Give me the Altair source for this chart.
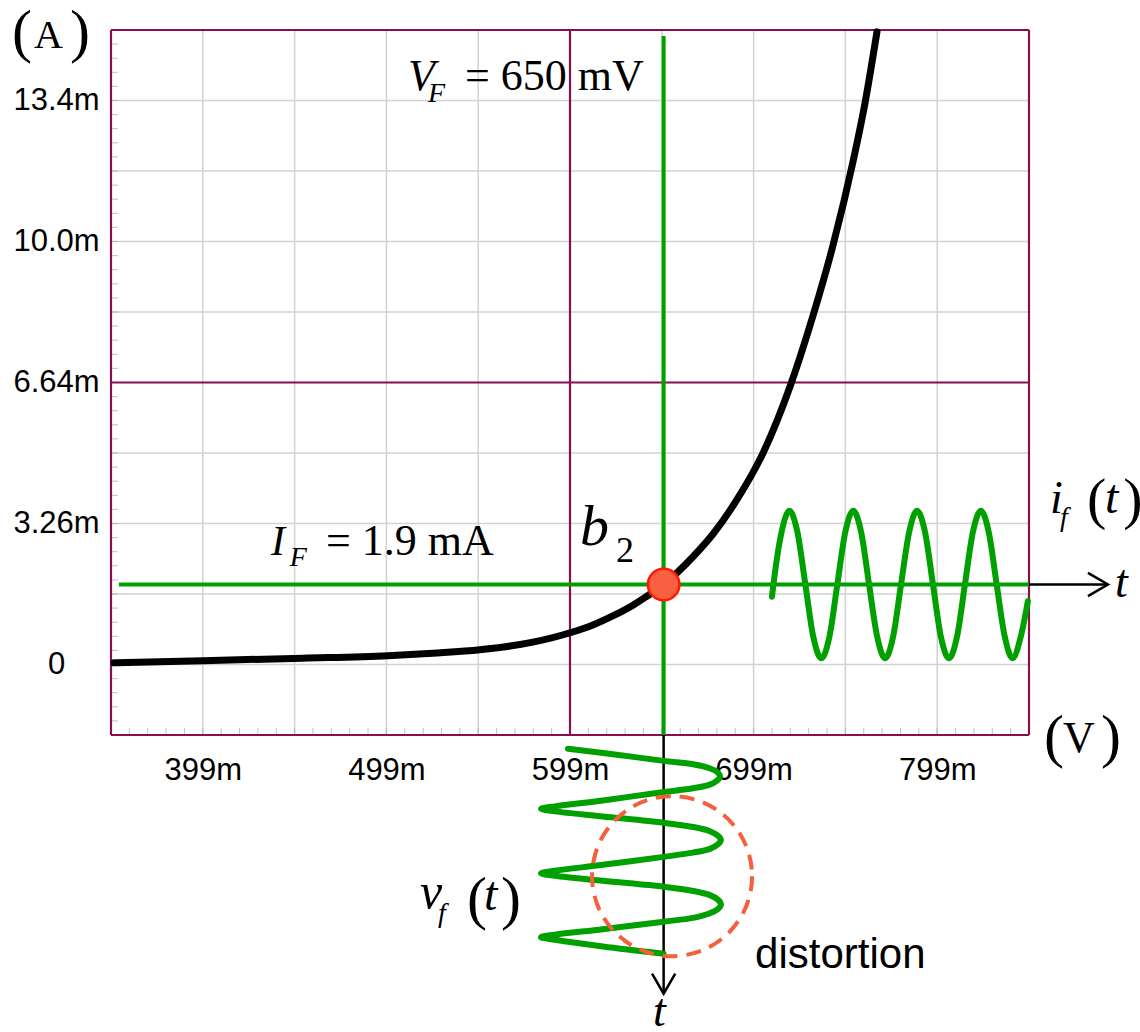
import altair as alt
import pandas as pd

# ---------------- frame: voltage (mV) across, current (mA) up ----------------
X_DOMAIN = [349, 849]
Y_DOMAIN = [-1.675, 15.075]
X_GRID_MINOR = [399, 449, 499, 549, 649, 699, 749, 799]
X_GRID_MAJOR = [349, 599, 849]
Y_GRID_MINOR = [0, 1.675, 3.35, 5.025, 8.375, 10.05, 11.725, 13.4]
Y_GRID_MAJOR = [-1.675, 6.7, 15.075]
X_TICK_VALUES = [399, 499, 599, 699, 799]
Y_TICK_VALUES = [0, 3.35, 6.7, 10.05, 13.4]
Y_TICK_LABELS = ["0", "3.26m", "6.64m", "10.0m", "13.4m"]
X_SUBTICKS = list(range(359, 849, 10))
Y_SUBTICKS = [round(-1.675 + 0.335 * k, 3) for k in range(1, 50)]

# ---------------- diode characteristic ----------------
DIODE_V = [350.6, 399.1, 453.5, 499.8, 524.3, 549.9, 578.8, 599.5, 611.5, 624.0, 633.3,
           640.4, 650.0, 657.8, 666.0, 676.9, 689.4, 704.1, 718.8, 731.3, 742.2,
           753.1, 759.6, 766.2]
DIODE_I = [0.04, 0.09, 0.15, 0.21, 0.27, 0.35, 0.53, 0.76, 0.94, 1.19, 1.41,
           1.61, 1.90, 2.20, 2.56, 3.10, 3.88, 5.02, 6.60, 8.28, 9.95,
           11.94, 13.32, 15.03]

# operating point b2
VF = 650
IF = 1.9

# current swing i_f(t) around I_F (time runs along the voltage axis)
IF_T = [709.0, 709.8, 714.2, 718.5, 722.9, 727.2, 731.5, 735.9, 740.3, 744.6, 748.9,
        753.3, 757.6, 761.9, 766.3, 770.6, 775.0, 779.3, 783.7, 788.0, 792.4, 796.7,
        801.0, 805.4, 809.8, 814.1, 818.4, 822.8, 827.1, 831.4, 835.8, 840.1, 844.5, 848.4]
IF_VAL = [1.61, 1.90, 3.14, 3.65, 3.14, 1.90, 0.66, 0.15, 0.66, 1.90, 3.14,
          3.65, 3.14, 1.90, 0.66, 0.15, 0.66, 1.90, 3.14, 3.65, 3.14, 1.90,
          0.66, 0.15, 0.66, 1.90, 3.14, 3.65, 3.14, 1.90, 0.66, 0.15, 0.66, 1.51]

# voltage swing v_f(t) around V_F (time runs downward below the axis)
VF_VAL = [597.9, 622.4, 650.0,
          666.0, 674.7, 679.0, 680.7, 679.0, 674.7, 666.0, 650.0,
          616.9, 590.8, 583.2, 590.8, 616.9, 650.0,
          666.0, 675.2, 679.6, 681.2, 679.6, 675.2, 666.0, 650.0,
          616.9, 590.8, 583.2, 590.8, 616.9, 650.0,
          666.0, 675.2, 679.6, 681.2, 679.6, 675.2, 666.0, 650.0,
          616.9, 590.8, 583.2, 590.8, 616.9, 650.0]
VF_T = [-2.00, -2.13, -2.29,
        -2.37, -2.46, -2.55, -2.66, -2.76, -2.86, -2.94, -3.03,
        -3.23, -3.37, -3.43, -3.49, -3.61, -3.76,
        -3.86, -3.96, -4.07, -4.17, -4.27, -4.38, -4.47, -4.57,
        -4.76, -4.90, -4.96, -5.02, -5.14, -5.28,
        -5.38, -5.48, -5.59, -5.70, -5.81, -5.91, -6.02, -6.11,
        -6.29, -6.42, -6.48, -6.54, -6.70, -6.87]

GREEN = "#00a000"
FRAME = "#86104f"
GRID = "#d2d2d2"
RED = "#f4603c"

xs = alt.Scale(domain=X_DOMAIN, nice=False, zero=False)
ys = alt.Scale(domain=Y_DOMAIN, nice=False, zero=False)

y_label_expr = " : ".join(
    f"datum.value === {v} ? '{t}'" for v, t in zip(Y_TICK_VALUES, Y_TICK_LABELS)
) + " : ''"

x_axis = alt.Axis(values=X_TICK_VALUES, labelExpr="datum.value + 'm'", title="",
                  domain=False, ticks=False, tickSize=0, grid=False,
                  labelFont="Liberation Sans", labelFontSize=31, labelColor="black",
                  labelPadding=20, labelFlush=False)
y_axis = alt.Axis(values=Y_TICK_VALUES, labelExpr=y_label_expr, title="",
                  domain=False, ticks=False, tickSize=0, grid=False,
                  labelFont="Liberation Sans", labelFontSize=31, labelColor="black",
                  labelAlign="center", labelBaseline="middle", labelPadding=55,
                  labelFlush=False)


def X(field):
    return alt.X(field, type="quantitative", scale=xs, axis=x_axis)


def Y(field):
    return alt.Y(field, type="quantitative", scale=ys, axis=y_axis)


# grid
grid_v = alt.Chart(pd.DataFrame({"v": X_GRID_MINOR})).mark_rule(
    color=GRID, strokeWidth=1.5).encode(x=X("v"))
grid_h = alt.Chart(pd.DataFrame({"i": Y_GRID_MINOR})).mark_rule(
    color=GRID, strokeWidth=1.5).encode(y=Y("i"))

sub_x = alt.Chart(pd.DataFrame({"v": X_SUBTICKS, "i": Y_DOMAIN[0]})).mark_tick(
    orient="vertical", color="#a8a8a8", thickness=1, size=7, yOffset=-3.5
).encode(x=X("v"), y=Y("i"))
sub_y = alt.Chart(pd.DataFrame({"i": Y_SUBTICKS, "v": X_DOMAIN[0]})).mark_tick(
    orient="horizontal", color="#a8a8a8", thickness=1, size=7, xOffset=3.5
).encode(x=X("v"), y=Y("i"))

major_v = alt.Chart(pd.DataFrame({"v": X_GRID_MAJOR})).mark_rule(
    color=FRAME, strokeWidth=2.2).encode(x=X("v"))
major_h = alt.Chart(pd.DataFrame({"i": Y_GRID_MAJOR})).mark_rule(
    color=FRAME, strokeWidth=2.2).encode(y=Y("i"))

# operating-point guide lines
guide_h = alt.Chart(pd.DataFrame({"a": [353.3], "b": [X_DOMAIN[1]], "i": [IF]})).mark_rule(
    color=GREEN, strokeWidth=4).encode(x=X("a"), x2="b", y=Y("i"))
guide_v = alt.Chart(pd.DataFrame({"v": [VF], "a": [14.93], "b": [Y_DOMAIN[0]]})).mark_rule(
    color=GREEN, strokeWidth=4).encode(x=X("v"), y=Y("a"), y2="b")

# time axes with arrow heads
shaft_h = alt.Chart(pd.DataFrame({"a": [X_DOMAIN[1]], "b": [892.0], "i": [IF]})).mark_rule(
    color="black", strokeWidth=2.5).encode(x=X("a"), x2="b", y=Y("i"))
shaft_v = alt.Chart(pd.DataFrame({"v": [VF], "a": [Y_DOMAIN[0]], "b": [-7.82]})).mark_rule(
    color="black", strokeWidth=2.5).encode(x=X("v"), y=Y("a"), y2="b")
heads = alt.Chart(pd.DataFrame({"v": [892.0, VF], "i": [IF, -7.82], "ang": [0, 90]})).mark_point(
    shape="M -1 -0.58 L 0 0 L -1 0.58", filled=False, size=1600, stroke="black",
    strokeWidth=2.5, opacity=1
).encode(x=X("v"), y=Y("i"), angle=alt.Angle("ang:Q", scale=None))

# diode curve
curve = alt.Chart(pd.DataFrame({"v": DIODE_V, "i": DIODE_I})).mark_line(
    color="black", strokeWidth=7, interpolate="monotone", strokeCap="round"
).encode(x=X("v"), y=Y("i"))

# signal swings
wave_i = alt.Chart(pd.DataFrame({"v": IF_T, "i": IF_VAL})).mark_line(
    color=GREEN, strokeWidth=6, interpolate="monotone", strokeCap="round"
).encode(x=X("v"), y=Y("i"))
wave_v = alt.Chart(pd.DataFrame({"v": VF_VAL, "i": VF_T, "k": list(range(len(VF_T)))})).mark_line(
    color=GREEN, strokeWidth=6, interpolate="catmull-rom", strokeCap="round",
    strokeJoin="round"
).encode(x=X("v"), y=Y("i"), order="k:Q")

# b2 marker and distortion ring
dot = alt.Chart(pd.DataFrame({"v": [VF], "i": [IF]})).mark_point(
    shape="circle", filled=True, size=1000, fill="#f76142", stroke="#ff1a00",
    strokeWidth=2.5, opacity=1
).encode(x=X("v"), y=Y("i"))
ring = alt.Chart(pd.DataFrame({"v": [654.6], "i": [-5.03]})).mark_point(
    shape="circle", filled=False, size=25600, stroke=RED, strokeWidth=4,
    strokeDash=[15, 9], opacity=1
).encode(x=X("v"), y=Y("i"))

# labels
serif_italic = pd.DataFrame({
    "t": ["V", "F", "I", "F", "b", "i", "f", "t", "t", "t", "v", "f", "t"],
    "v": [510.8, 521.6, 436.1, 446.4, 604.5, 860.5, 865.9, 890.4, 895.9, 644.2, 517.3, 527.1, 552.2],
    "i": [13.65, 13.36, 2.60, 2.34, 2.84, 3.60, 3.29, 3.60, 1.60, -8.58, -5.79, -6.12, -5.83],
    "s": [44, 28, 42, 28, 58, 46, 28, 48, 46, 46, 50, 28, 48],
})
serif_roman = pd.DataFrame({
    "t": ["= 650 mV", "= 1.9 mA", "2", "(", "A", ")", "(", "V", ")", "(", ")", "(", ")"],
    "v": [541.8, 466.1, 624.0, 295.1, 307.1, 326.7, 857.2, 867.5, 888.2, 880.6, 900.3, 542.9, 561.4],
    "i": [13.65, 2.60, 2.44, 14.58, 14.65, 14.58, -2.17, -2.08, -2.17, 3.48, 3.48, -6.02, -6.02],
    "s": [44, 44, 36, 60, 40, 60, 60, 44, 60, 58, 58, 60, 60],
})
sans = pd.DataFrame({"t": ["distortion"], "v": [699.8], "i": [-7.21], "s": [42]})


def text_layer(df, font, style="normal"):
    return alt.Chart(df).mark_text(
        font=font, fontStyle=style, align="left", baseline="alphabetic", color="black"
    ).encode(x=X("v"), y=Y("i"), text="t:N", size=alt.Size("s:Q", scale=None))


chart = alt.layer(
    grid_v, grid_h, sub_x, sub_y, major_v, major_h,
    guide_h, guide_v, shaft_h, shaft_v, heads,
    wave_i, wave_v, curve, dot, ring,
    text_layer(serif_italic, "Liberation Serif", "italic"),
    text_layer(serif_roman, "Liberation Serif"),
    text_layer(sans, "Liberation Sans"),
).properties(
    width=918, height=705,
    padding={"left": 111, "top": 30, "right": 111, "bottom": 297},
    autosize=alt.AutoSizeParams(type="none"),
    background="white",
).configure_view(strokeWidth=0)

chart.save("out.html", embed_options={"renderer": "svg", "actions": False})
